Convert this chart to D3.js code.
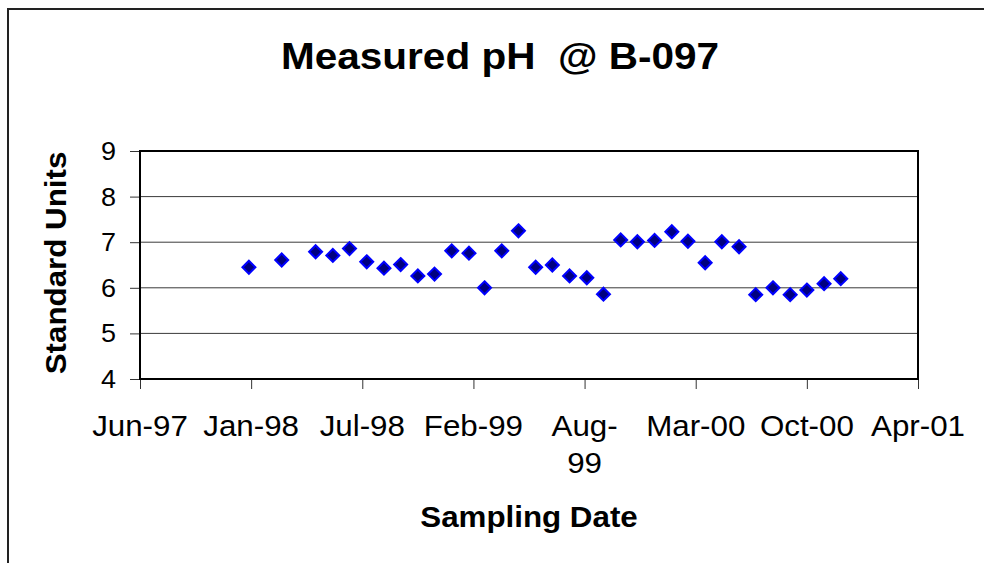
<!DOCTYPE html>
<meta charset="utf-8" />
<style>
  body { margin: 0; background: #fff; overflow: hidden; }
  svg { font-family: "Liberation Sans", Arial, sans-serif; }
</style>
<body>
<svg id="chart"></svg>
<script src="https://cdn.jsdelivr.net/npm/d3@7"></script>
<script>
// sampling dates (first of month) and measured pH
var sampleDates = ["1998-01-01","1998-03-01","1998-05-01","1998-06-01","1998-07-01","1998-08-01",
  "1998-09-01","1998-10-01","1998-11-01","1998-12-01","1999-01-01","1999-02-01","1999-03-01",
  "1999-04-01","1999-05-01","1999-06-01","1999-07-01","1999-08-01","1999-09-01","1999-10-01",
  "1999-11-01","1999-12-01","2000-01-01","2000-02-01","2000-03-01","2000-04-01","2000-05-01",
  "2000-06-01","2000-07-01","2000-08-01","2000-09-01","2000-10-01","2000-11-01","2000-12-01"];
var phValues = [6.45,6.61,6.79,6.71,6.86,6.57,6.43,6.51,6.26,6.30,6.81,6.76,6.00,6.81,7.25,
  6.45,6.50,6.26,6.22,5.86,7.05,7.01,7.04,7.23,7.02,6.55,7.01,6.90,5.85,6.00,5.85,5.95,6.09,6.20];
var xTickLabels = ["Jun-97","Jan-98","Jul-98","Feb-99","Aug-99","Mar-00","Oct-00","Apr-01"];
var wrapLabels = ["Aug-99"];
var yTicks = [4,5,6,7,8,9];
var axisStart = "1997-06-19", axisEnd = "2001-04-19", tickStepDays = 200;

var width = 984, height = 563;
var plot = {left: 140, right: 918, top: 151, bottom: 379};
var stretch = 1.08;

var svg = d3.select("#chart").attr("width", width).attr("height", height);

// outer chart frame
svg.append("rect").attr("x", 8).attr("y", 9).attr("width", 1100).attr("height", 700)
  .attr("fill", "none").attr("stroke", "#222").attr("stroke-width", 2);

var parse = d3.utcParse("%Y-%m-%d");
var x = d3.scaleUtc().domain([parse(axisStart), parse(axisEnd)]).range([plot.left, plot.right]);
var y = d3.scaleLinear().domain([4, 9]).range([plot.bottom, plot.top]);

var xTickDates = xTickLabels.map((d, i) => d3.utcDay.offset(parse(axisStart), i * tickStepDays));

function label(g, txt, px, py, size, weight, anchor, rot) {
  return g.append("text")
    .attr("transform", "translate(" + px + "," + py + ")" + (rot ? " rotate(" + rot + ")" : "") + " scale(" + stretch + ",1)")
    .attr("text-anchor", anchor).attr("font-size", size).attr("font-weight", weight)
    .style("white-space", "pre").attr("fill", "#000").text(txt);
}

// gridlines
svg.append("g").selectAll("line").data(yTicks.slice(1, -1)).join("line")
  .attr("x1", plot.left).attr("x2", plot.right)
  .attr("y1", d => y(d)).attr("y2", d => y(d))
  .attr("stroke", "#3a3a3a").attr("stroke-width", 1);

// axes
var yAxis = svg.append("g").attr("transform", "translate(" + plot.left + ",0)")
  .call(d3.axisLeft(y).tickValues(yTicks).tickSize(10).tickFormat(""));
var xAxis = svg.append("g").attr("transform", "translate(0," + plot.bottom + ")")
  .call(d3.axisBottom(x).tickValues(xTickDates).tickSize(10).tickFormat(""));
[yAxis, xAxis].forEach(a => {
  a.select(".domain").remove();
  a.selectAll(".tick line").attr("stroke", "#333").attr("stroke-width", 1);
});

// plot frame
svg.append("rect").attr("x", plot.left).attr("y", plot.top)
  .attr("width", plot.right - plot.left).attr("height", plot.bottom - plot.top)
  .attr("fill", "none").attr("stroke", "#000").attr("stroke-width", 2);

// tick labels
yTicks.forEach(v => label(svg, String(v), 116, y(v) + 9, 25, "normal", "end"));
xTickLabels.forEach((t, i) => {
  var px = x(xTickDates[i]);
  if (wrapLabels.indexOf(t) >= 0) {
    var k = t.indexOf("-") + 1;
    label(svg, t.slice(0, k), px, 435.5, 29, "normal", "middle");
    label(svg, t.slice(k), px, 473, 29, "normal", "middle");
  } else {
    label(svg, t, px, 435.5, 29, "normal", "middle");
  }
});

// titles
svg.append("text").attr("x", 500).attr("y", 69).attr("text-anchor", "middle")
  .attr("font-size", 37).attr("font-weight", "bold").style("white-space", "pre")
  .attr("textLength", 438).attr("lengthAdjust", "spacingAndGlyphs")
  .text("Measured pH  @ B-097");
label(svg, "Sampling Date", 529, 526.5, 29, "bold", "middle");
label(svg, "Standard Units", 66, 263, 29, "bold", "middle", -90);

// markers
var data = sampleDates.map((d, i) => ({date: parse(d), ph: phValues[i]}));
var diamond = "M0,-6.5L6.5,0L0,6.5L-6.5,0Z";
svg.append("g").selectAll("path").data(data).join("path")
  .attr("transform", d => "translate(" + x(d.date) + "," + y(d.ph) + ")")
  .attr("d", diamond)
  .attr("fill", "#000080").attr("stroke", "#0000ff").attr("stroke-width", 2);
</script>
</body>
